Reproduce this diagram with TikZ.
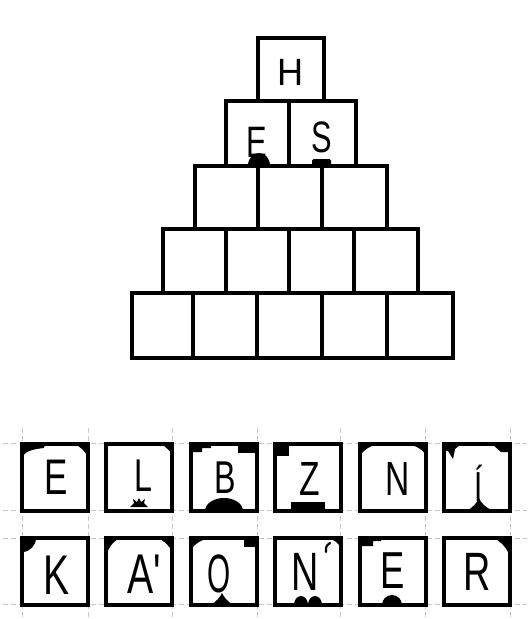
\documentclass[tikz,border=0pt]{standalone}
\usepackage{fontspec}
\newfontfamily\hand[FakeStretch=0.7]{Liberation Sans}
\newfontfamily\handn[FakeStretch=0.55]{Liberation Sans}
\newfontfamily\handw[FakeStretch=0.95]{Liberation Sans}
\newcommand\cTL[2]{\fill (0,0) -- (#1,0) .. controls ({0.55*#1},{0.15*#2}) and ({0.15*#1},{0.55*#2}) .. (0,#2) -- cycle;}
\newcommand\cTR[2]{\fill (66,0) -- ({66-#1},0) .. controls ({66-0.55*#1},{0.15*#2}) and ({66-0.15*#1},{0.55*#2}) .. (66,#2) -- cycle;}
\newcommand\cDome[3]{\fill ({#1-#2},67) arc[start angle=180, end angle=360, x radius=#2, y radius=#3] -- cycle;}
\begin{document}
\begin{tikzpicture}[x=1pt,y=-1pt,
  cell/.style={draw, line width=3.2pt, line join=miter},
  cardbox/.style={draw, line width=3.4pt, fill=white},
  guide/.style={draw=black!22, line width=0.6pt, dash pattern=on 5pt off 3pt},
  clet/.style={inner sep=0pt, anchor=base, font=\hand\fontsize{#1}{#1}\selectfont}]
\useasboundingbox (0,0) rectangle (529,619);
\fill[white] (0,0) rectangle (529,619);
% ---------- pyramid ----------
\draw[cell] (258,38) rectangle (324,101);
\foreach \a/\b in {226/289, 289/356} \draw[cell] (\a,101) rectangle (\b,166);
\foreach \a/\b in {195/258, 258/322, 322/387} \draw[cell] (\a,166) rectangle (\b,229);
\foreach \a/\b in {163/226, 226/289, 289/354, 354/418} \draw[cell] (\a,229) rectangle (\b,293);
\foreach \a/\b in {132/193, 193/257, 257/322, 322/387, 387/453} \draw[cell] (\a,293) rectangle (\b,358);
\fill (248,166) .. controls (248,158) and (253,153) .. (259,153) .. controls (265,153) and (270,158) .. (270,166) -- cycle;
\fill[rounded corners=1.5pt] (312,166) -- (312,159) -- (331,159) -- (331,166) -- cycle;
\node[inner sep=0pt, anchor=base, font=\handw\fontsize{38}{38}\selectfont] (h) at (291,85) {H};
\node[clet=44] (pe) at (257,157) {E};
\node[clet=44] (ps) at (322,152) {S};
% ---------- guide lines ----------
\foreach \y in {443,510,538,604} \draw[guide] (3,\y) -- (527,\y);
\foreach \x in {22,88,172,257,340,425,510} \draw[guide] (\x,428) -- (\x,619);
% ---------- row 1 ----------
\begin{scope}[shift={(22,444)}]
  \path[cardbox] (0,0) rectangle (66,67);
  \fill (0,0) -- (23,0) -- (22,4) .. controls (12,5) and (3,7) .. (0,13) -- cycle;
  \cTR{14}{14}
  \node[clet=50] (c1) at (34,50) {E};
\end{scope}
\begin{scope}[shift={(106,444)}]
  \path[cardbox] (0,0) rectangle (66,67);
  \fill (66,0) -- (51,0) .. controls (59,0) and (66,5) .. (66,12) -- cycle;
  \fill (66,0) -- (56,0) -- (66,9) -- cycle;
  \fill (24,63) -- (28,59) -- (27,55) -- (31,58) -- (33,54) -- (35,58) -- (39,55) -- (38,59) -- (42,63) -- cycle;
  \node[clet=46] (c2) at (37,47) {L};
\end{scope}
\begin{scope}[shift={(191,444)}]
  \path[cardbox] (0,0) rectangle (66,67);
  \fill (0,0) -- (20,0) -- (20,4) -- (11,4) -- (11,8) -- (0,8) -- cycle;
  \fill (47,0) rectangle (66,9);
  \cDome{33}{19}{13}
  \node[clet=46] (c3) at (34,49) {B};
\end{scope}
\begin{scope}[shift={(275,444)}]
  \path[cardbox] (0,0) rectangle (66,67);
  \fill (0,0) rectangle (14,12);
  \fill (16,58) rectangle (50,67);
  \node[clet=48] (c4) at (35,51) {Z};
\end{scope}
\begin{scope}[shift={(360,444)}]
  \path[cardbox] (0,0) rectangle (66,67);
  \cTL{18}{12}
  \cTR{18}{11}
  \node[clet=48] (c5) at (38,51) {N};
\end{scope}
\begin{scope}[shift={(444,444)}]
  \path[cardbox] (0,0) rectangle (66,67);
  \fill (0,0) -- (17,0) -- (11,5) -- (9,15) -- (4,7) -- (0,7) -- cycle;
  \fill (48,0) -- (66,0) -- (66,8) -- (57,8) -- cycle;
  \fill (23,67) .. controls (29,63) and (33,59) .. (35,54) .. controls (37,59) and (41,63) .. (49,67) -- cycle;
  \node[clet=42] (c6) at (35,57) {Í};
\end{scope}
% ---------- row 2 ----------
\begin{scope}[shift={(22,538)}]
  \path[cardbox] (0,0) rectangle (66,67);
  \fill (0,0) -- (14,0) .. controls (14,7.7) and (7.7,14) .. (0,14) -- cycle;
  \node[clet=56] (d1) at (35,56) {K};
\end{scope}
\begin{scope}[shift={(106,538)}]
  \path[cardbox] (0,0) rectangle (66,67);
  \cTL{14}{18}
  \cTR{15}{14}
  \node[clet=56] (d2) at (38,55) {A'};
\end{scope}
\begin{scope}[shift={(191,538)}]
  \path[cardbox] (0,0) rectangle (66,67);
  \cTL{18}{12}
  \fill (53,0) rectangle (66,9);
  \fill (20,67) .. controls (26,63) and (29,59) .. (31,55) .. controls (33,59) and (36,63) .. (42,67) -- cycle;
  \node[inner sep=0pt, anchor=base, font=\handn\fontsize{54}{54}\selectfont] (d3) at (28,54) {O};
\end{scope}
\begin{scope}[shift={(275,538)}]
  \path[cardbox] (0,0) rectangle (66,67);
  \cTR{13}{10}
  \draw[line width=2.2pt, line cap=round] (55,5) .. controls (51,8) .. (51,14);
  \cDome{26}{7}{9}
  \cDome{40}{7}{9}
  \node[clet=54] (d4) at (30,52) {N};
\end{scope}
\begin{scope}[shift={(360,538)}]
  \path[cardbox] (0,0) rectangle (66,67);
  \fill (0,0) -- (21,0) -- (21,3) -- (13,3) -- (13,8) -- (0,8) -- cycle;
  \cDome{32}{10}{10}
  \node[clet=52] (d5) at (33,50) {E};
\end{scope}
\begin{scope}[shift={(444,538)}]
  \path[cardbox] (0,0) rectangle (66,67);
  \cTR{17}{19}
  \node[clet=54] (d6) at (33,52) {R};
\end{scope}
\end{tikzpicture}
\end{document}
